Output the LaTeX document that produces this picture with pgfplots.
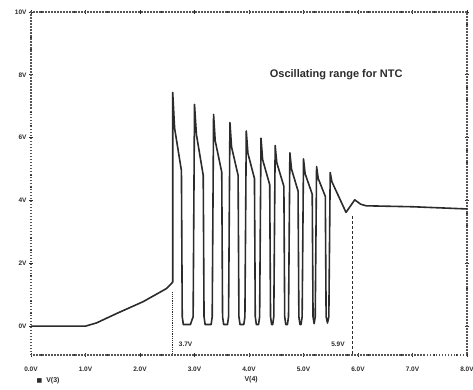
\documentclass[border=0pt]{standalone}
\usepackage{pgfplots}
\pgfplotsset{compat=1.18}
\usepackage{fontspec}
\setmainfont{Liberation Sans}
\newfontfamily\dejavu{DejaVu Sans}
\definecolor{ink}{HTML}{2B2B2B}
\begin{document}
\begin{tikzpicture}
\useasboundingbox (0,0) rectangle (473pt,389pt);
\begin{axis}[
  at={(31pt,34pt)}, anchor=south west,
  scale only axis, width=436pt, height=343pt,
  xmin=0, xmax=8, ymin=-0.92, ymax=10,
  xtick={0,1,...,8},
  xticklabels={0.0V,1.0V,2.0V,3.0V,4.0V,5.0V,6.0V,7.0V,8.0V},
  ytick={0,2,...,10},
  yticklabels={0V,2V,4V,6V,8V,10V},
  minor x tick num=4, minor y tick num=4,
  tick align=center,
  major tick length=4pt, minor tick length=2pt,
  tick style={ink, line width=0.9pt},
  axis line style={ink!80, dash pattern=on 1.5pt off 1.5pt, line width=1.1pt},
  ticklabel style={font=\bfseries\fontsize{6.5}{7}\selectfont, text=ink},
  xticklabel style={yshift=-6pt},
  yticklabel style={xshift=1pt},
  clip=false,
]
\addplot[ink, line width=1.6pt, line join=round] coordinates {
(0,0)(1.0,0)(1.2,0.1)(1.57,0.4)(2.06,0.78)(2.49,1.2)(2.6,1.4)
(2.6,7.44)(2.635,6.3)(2.76,4.95)(2.775,0.3)(2.795,0.05)(2.925,0.05)(2.975,0.3)
(3.0,7.06)(3.035,6.1)(3.16,4.8)(3.175,0.3)(3.195,0.05)(3.305,0.05)(3.325,0.3)
(3.35,6.74)(3.38,5.9)(3.50,4.9)(3.515,0.3)(3.535,0.05)(3.605,0.05)(3.625,0.3)
(3.65,6.48)(3.68,5.7)(3.80,4.8)(3.815,0.3)(3.835,0.05)(3.905,0.05)(3.925,0.3)
(3.95,6.21)(3.98,5.5)(4.10,4.7)(4.115,0.3)(4.135,0.05)(4.175,0.05)(4.195,0.3)
(4.22,5.98)(4.25,5.3)(4.38,4.5)(4.395,0.3)(4.415,0.05)(4.435,0.05)(4.455,0.3)
(4.48,5.75)(4.51,5.2)(4.64,4.45)(4.655,0.3)(4.675,0.05)(4.705,0.05)(4.725,0.3)
(4.75,5.52)(4.78,5.0)(4.90,4.3)(4.915,0.3)(4.935,0.05)(4.955,0.05)(4.975,0.3)
(5.00,5.32)(5.03,4.85)(5.16,4.2)(5.175,0.3)(5.195,0.08)(5.215,0.3)
(5.24,5.08)(5.27,4.7)(5.40,4.13)(5.415,0.3)(5.44,0.1)(5.465,0.3)
(5.49,4.89)(5.52,4.6)(5.78,3.62)(5.94,4.02)(6.05,3.88)(6.15,3.83)(7.0,3.8)(8.0,3.73)
};
\addplot[ink, line width=1.2pt, densely dotted] coordinates {(2.6,1.1)(2.6,-0.92)};
\addplot[ink, line width=1.6pt, dash pattern=on 3pt off 2pt] coordinates {(5.9,3.5)(5.9,-0.92)};
\node[anchor=west, font=\bfseries\fontsize{6.5}{7}\selectfont, text=ink] at (axis cs:2.65,-0.57) {3.7V};
\node[anchor=east, font=\bfseries\fontsize{6.5}{7}\selectfont, text=ink] at (axis cs:5.82,-0.57) {5.9V};
\node[font=\bfseries\fontsize{11}{13}\selectfont, text=ink] at (axis cs:5.6,8.0) {Oscillating range for NTC};
\node[anchor=west, font=\bfseries\fontsize{7}{8}\selectfont, text=ink] at (axis description cs:0.005,-0.076) {{\dejavu\fontsize{6}{7}\selectfont ■}\ \ V(3)};
\node[font=\bfseries\fontsize{7}{8}\selectfont, text=ink] at (axis description cs:0.505,-0.073) {V(4)};
\end{axis}
\end{tikzpicture}
\end{document}
